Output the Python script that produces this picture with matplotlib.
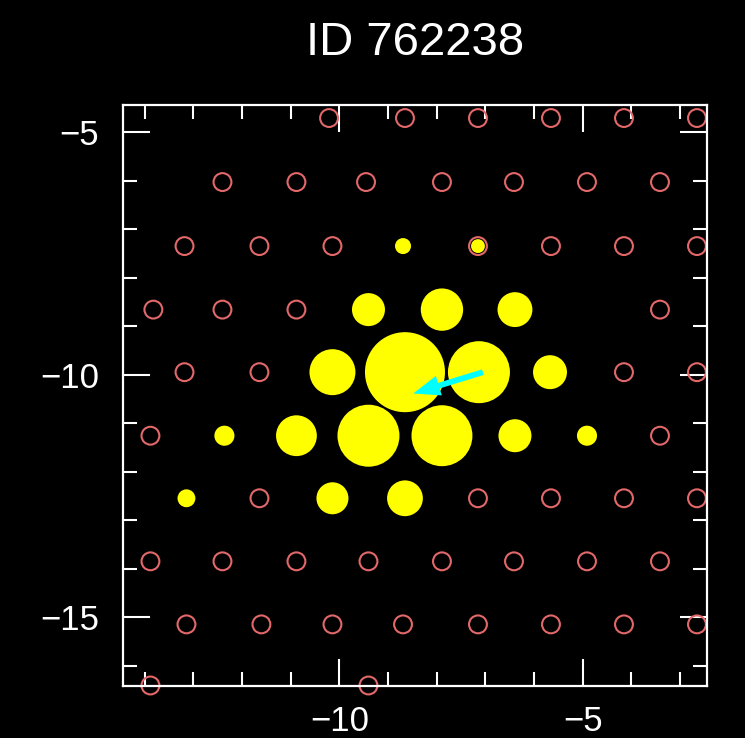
import matplotlib
matplotlib.use("Agg")
import matplotlib.pyplot as plt
from matplotlib.ticker import MultipleLocator

# fibre positions with no detected flux (empty circles)
empty_x = [
    -10.21, -8.65, -7.15, -5.65, -4.15, -2.65,
    -12.40, -10.88, -9.45, -7.89, -6.41, -4.91, -3.41,
    -13.18, -11.64, -10.14, -7.15, -5.65, -4.15, -2.65,
    -13.82, -12.40, -10.88, -3.41,
    -13.18, -11.64, -4.15, -2.65,
    -13.88, -3.41,
    -11.64, -7.15, -5.65, -4.15, -2.65,
    -13.88, -12.40, -10.88, -9.40, -7.89, -6.41, -4.91, -3.41,
    -13.14, -11.60, -10.14, -8.69, -7.15, -5.65, -4.15, -2.65,
    -13.88, -9.40,
]
empty_y = (
    [-4.71] * 6 + [-6.03] * 7 + [-7.35] * 7 + [-8.66] * 4 + [-9.95] * 4
    + [-11.26] * 2 + [-12.55] * 5 + [-13.85] * 8 + [-15.15] * 8 + [-16.41] * 2
)

# fibres with flux (filled yellow discs, area ~ flux)
flux_x = [
    -8.69, -7.15,
    -9.40, -7.89, -6.39,
    -10.14, -8.65, -7.13, -5.67,
    -12.36, -10.88, -9.40, -7.89, -6.39, -4.91,
    -13.14, -10.14, -8.65,
]
flux_y = (
    [-7.35] * 2 + [-8.66] * 3 + [-9.95] * 4 + [-11.26] * 6 + [-12.55] * 3
)
flux = [
    4, 3,
    17, 28, 19,
    33, 100, 60, 18,
    6.3, 26, 60, 58, 17, 6.3,
    5, 16, 20,
]

# offset vector (tail -> head)
arrow_tail = (-7.05, -9.95)
arrow_head = (-8.48, -10.39)

xlim = (-14.45, -2.45)
ylim = (-16.42, -4.44)

plt.rcParams["font.family"] = ["Liberation Sans", "DejaVu Sans"]

fig = plt.figure(figsize=(7.45, 7.38), dpi=100, facecolor="black")
ax = fig.add_axes([0.1647, 0.0705, 0.7839, 0.7873], facecolor="black")

ax.scatter(
    empty_x, empty_y, s=165, facecolors="none", edgecolors="#e2686a",
    linewidths=1.5, zorder=2, clip_on=False,
)
ax.scatter(
    flux_x, flux_y, s=[f * 33.2 for f in flux], color="#ffff00",
    linewidths=0, zorder=3,
)
dx = arrow_head[0] - arrow_tail[0]
dy = arrow_head[1] - arrow_tail[1]
ax.arrow(
    arrow_tail[0], arrow_tail[1], dx, dy, width=0.12, head_width=0.42,
    head_length=0.55, length_includes_head=True, color="#00ffff",
    linewidth=0, zorder=4,
)

ax.set_xlim(*xlim)
ax.set_ylim(*ylim)
ax.xaxis.set_major_locator(MultipleLocator(5))
ax.xaxis.set_minor_locator(MultipleLocator(1))
ax.yaxis.set_major_locator(MultipleLocator(5))
ax.yaxis.set_minor_locator(MultipleLocator(1))
ax.tick_params(
    which="both", direction="in", top=True, right=True, color="white",
    width=1.5, labelcolor="white", labelsize=25,
)
ax.tick_params(which="major", length=19.5)
ax.tick_params(which="minor", length=10)
ax.tick_params(axis="y", which="major", pad=17)
ax.tick_params(axis="x", which="major", pad=14)
for spine in ax.spines.values():
    spine.set_color("white")
    spine.set_linewidth(1.6)

ax.set_title("ID 762238", color="white", fontsize=34, pad=36)

fig.savefig("out.png", dpi=100, facecolor="black")
